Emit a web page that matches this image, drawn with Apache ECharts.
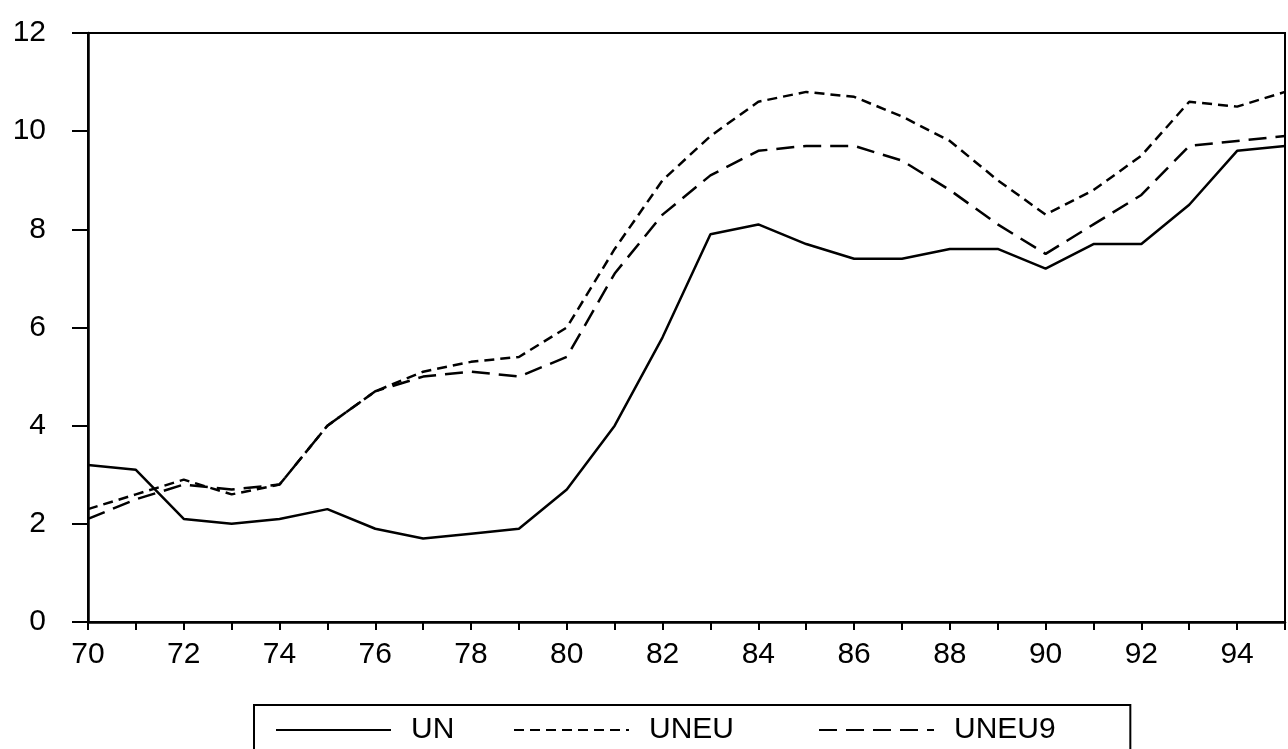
<!DOCTYPE html>
<html>
<head>
<meta charset="utf-8">
<script src="https://cdn.jsdelivr.net/npm/echarts@6/dist/echarts.min.js"></script>
<style>
  html, body { margin: 0; padding: 0; background: #fff; }
  #chart { width: 1288px; height: 749px; }
</style>
</head>
<body>
<div id="chart"></div>
<script>
// years 1970..1995 (shown as 70..95)
var years = [70, 71, 72, 73, 74, 75, 76, 77, 78, 79, 80, 81, 82, 83, 84, 85, 86, 87, 88, 89, 90, 91, 92, 93, 94, 95];
var un    = [3.2, 3.1, 2.1, 2.0, 2.1, 2.3, 1.9, 1.7, 1.8, 1.9, 2.7, 4.0, 5.8, 7.9, 8.1, 7.7, 7.4, 7.4, 7.6, 7.6, 7.2, 7.7, 7.7, 8.5, 9.6, 9.7];
var uneu  = [2.3, 2.6, 2.9, 2.6, 2.8, 4.0, 4.7, 5.1, 5.3, 5.4, 6.0, 7.6, 9.0, 9.9, 10.6, 10.8, 10.7, 10.3, 9.8, 9.0, 8.3, 8.8, 9.5, 10.6, 10.5, 10.8];
var uneu9 = [2.1, 2.5, 2.8, 2.7, 2.8, 4.0, 4.7, 5.0, 5.1, 5.0, 5.4, 7.1, 8.3, 9.1, 9.6, 9.7, 9.7, 9.4, 8.8, 8.1, 7.5, 8.1, 8.7, 9.7, 9.8, 9.9];
var seriesNames = ["UN", "UNEU", "UNEU9"];

function pairs(vals) {
  return years.map(function (y, i) { return [y, vals[i]]; });
}

var font = "Liberation Sans, Arial, sans-serif";
var chart = echarts.init(document.getElementById("chart"));

// one legend per entry so each one sits where it is in the original,
// the first one carries the frame
function legendEntry(name, left, top, padding, border) {
  return {
    left: left,
    top: top,
    itemWidth: 115,
    itemHeight: 14,
    padding: padding,
    borderColor: "#000",
    borderWidth: border,
    itemStyle: { opacity: 0 },
    textStyle: { color: "#000", fontSize: 30, fontFamily: font, padding: [0, 0, 0, 15] },
    data: [name]
  };
}

chart.setOption({
  animation: false,
  backgroundColor: "#fff",
  grid: {
    left: 88,
    top: 33,
    right: -2,
    bottom: 127,
    show: true,
    borderColor: "#000",
    borderWidth: 2
  },
  xAxis: {
    type: "value",
    min: 70,
    max: 95,
    interval: 1,
    axisLine: { lineStyle: { color: "#000", width: 2.5 } },
    axisTick: { length: 8, lineStyle: { color: "#000", width: 2 } },
    axisLabel: {
      color: "#000",
      fontSize: 30,
      fontFamily: font,
      margin: 18,
      formatter: function (v) { return v % 2 === 0 ? String(v) : ""; }
    },
    splitLine: { show: false }
  },
  yAxis: {
    type: "value",
    min: 0,
    max: 12,
    interval: 2,
    axisLine: { show: true, lineStyle: { color: "#000", width: 2.5 } },
    axisTick: { show: true, length: 16, lineStyle: { color: "#000", width: 2 } },
    axisLabel: {
      color: "#000",
      fontSize: 30,
      fontFamily: font,
      margin: 42,
      padding: [0, 0, 8, 0]
    },
    splitLine: { show: false }
  },
  legend: [
    legendEntry(seriesNames[0], 254, 705, [10, 676, 30, 21], 2),
    legendEntry(seriesNames[1], 513, 715, 0, 0),
    legendEntry(seriesNames[2], 818, 715, 0, 0)
  ],
  series: [
    {
      name: "UN",
      type: "line",
      symbol: "none",
      data: pairs(un),
      lineStyle: { color: "#000", width: 2.5, type: "solid" },
      itemStyle: { color: "#000" }
    },
    {
      name: "UNEU",
      type: "line",
      symbol: "none",
      data: pairs(uneu),
      lineStyle: { color: "#000", width: 2.5, type: [10, 6] },
      itemStyle: { color: "#000" }
    },
    {
      name: "UNEU9",
      type: "line",
      symbol: "none",
      data: pairs(uneu9),
      lineStyle: { color: "#000", width: 2.5, type: [18, 9] },
      itemStyle: { color: "#000" }
    }
  ]
});
</script>
</body>
</html>
